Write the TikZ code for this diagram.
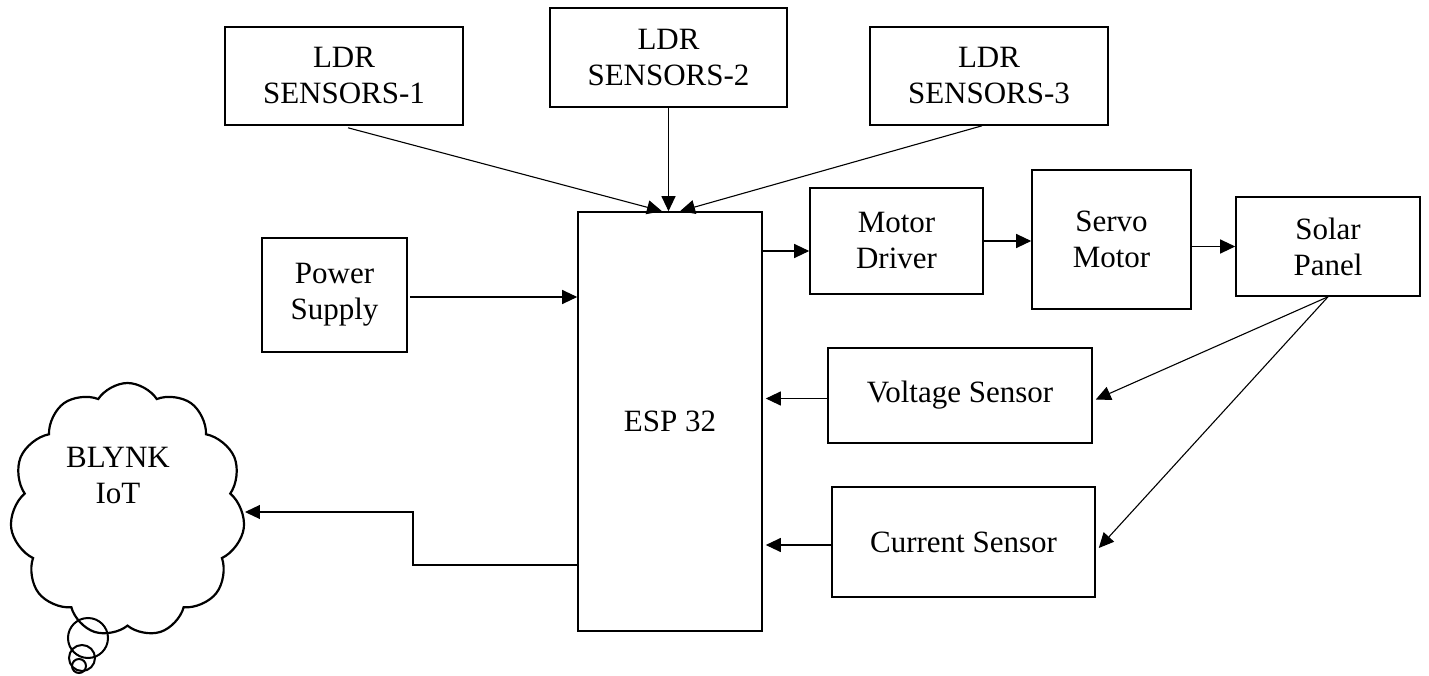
\documentclass[tikz,border=0pt]{standalone}
\usepackage{fontspec}
\setmainfont{Liberation Serif}
\usetikzlibrary{shapes.symbols,arrows.meta,calc}
\begin{document}
\begin{tikzpicture}[x=1pt,y=-1pt,
  box/.style={draw,line width=1.6pt,inner sep=0pt,align=center,font=\fontsize{31}{36}\selectfont},
  arr/.style={line width=1.1pt,-{Triangle[length=15pt,width=14pt]}},
  lbl/.style={align=center,font=\fontsize{31}{36}\selectfont,inner sep=0pt}]
\useasboundingbox (0,0) rectangle (1429,676);
% boxes
\node[box,minimum width=238pt,minimum height=98pt] (ldr1) at (344,76) {LDR\\SENSORS-1};
\node[box,minimum width=237pt,minimum height=99pt] (ldr2) at (668.5,57.5) {LDR\\SENSORS-2};
\node[box,minimum width=238pt,minimum height=98pt] (ldr3) at (989,76) {LDR\\SENSORS-3};
\node[box,minimum width=145pt,minimum height=114pt] (ps) at (334.5,295) {Power\\Supply};
\node[box,minimum width=184pt,minimum height=419pt] (esp) at (670,421.5) {ESP 32};
\node[box,minimum width=173pt,minimum height=106pt] (md) at (896.5,241) {Motor\\Driver};
\node[box,minimum width=159pt,minimum height=139pt] (servo) at (1111.5,239.5) {Servo\\Motor};
\node[box,minimum width=184pt,minimum height=99pt] (solar) at (1328,246.5) {Solar\\Panel};
\node[box,minimum width=264pt,minimum height=95pt] (volt) at (960,395.5) {Voltage Sensor};
\node[box,minimum width=263pt,minimum height=110pt] (cur) at (963.5,542) {Current Sensor};
% cloud
\node[cloud,draw,line width=2.2pt,cloud puffs=11,cloud puff arc=115,cloud ignores aspect,
      minimum width=235pt,minimum height=254pt,inner sep=0pt] (blynk) at (127.5,510) {};
\node[lbl] (blynklbl) at (118,475) {BLYNK\\IoT};
\draw[line width=2pt] (88,638) circle (20);
\draw[line width=2pt] (82,658) circle (13);
\draw[line width=2pt] (79,666) circle (7);
% connectors
\draw[arr] ($(ldr1.south)+(4,2)$) -- ($(esp.north)+(-8,0)$);
\draw[arr] (ldr2.south) -- (ldr2.south |- esp.north);
\draw[arr] ($(ldr3.south)+(-7,0)$) -- ($(esp.north)+(10,0)$);
\coordinate (mdin) at ($(md.west)+(0,10)$);
\draw[arr] (esp.east |- mdin) -- (mdin);
\draw[arr] (md.east) -- (md.east -| servo.west);
\draw[arr] (solar.west -| servo.east) -- (solar.west);
\draw[arr] ($(ps.east)+(2,2)$) -- ($(ps.east -| esp.west)+(0,2)$);
\draw[arr] (solar.south) -- ($(volt.east)+(3,4)$);
\draw[arr] (solar.south) -- ($(cur.east)+(3,6)$);
\draw[arr,shorten >=3pt] ($(volt.west)+(0,3)$) -- ($(volt.west -| esp.east)+(0,3)$);
\draw[arr,shorten >=3pt] ($(cur.west)+(0,3)$) -- ($(cur.west -| esp.east)+(0,3)$);
\coordinate (bend) at (413,565);
\draw[arr] (esp.west |- bend) -- (bend) |- ($(blynk.east)+(2,2)$);
\end{tikzpicture}
\end{document}
